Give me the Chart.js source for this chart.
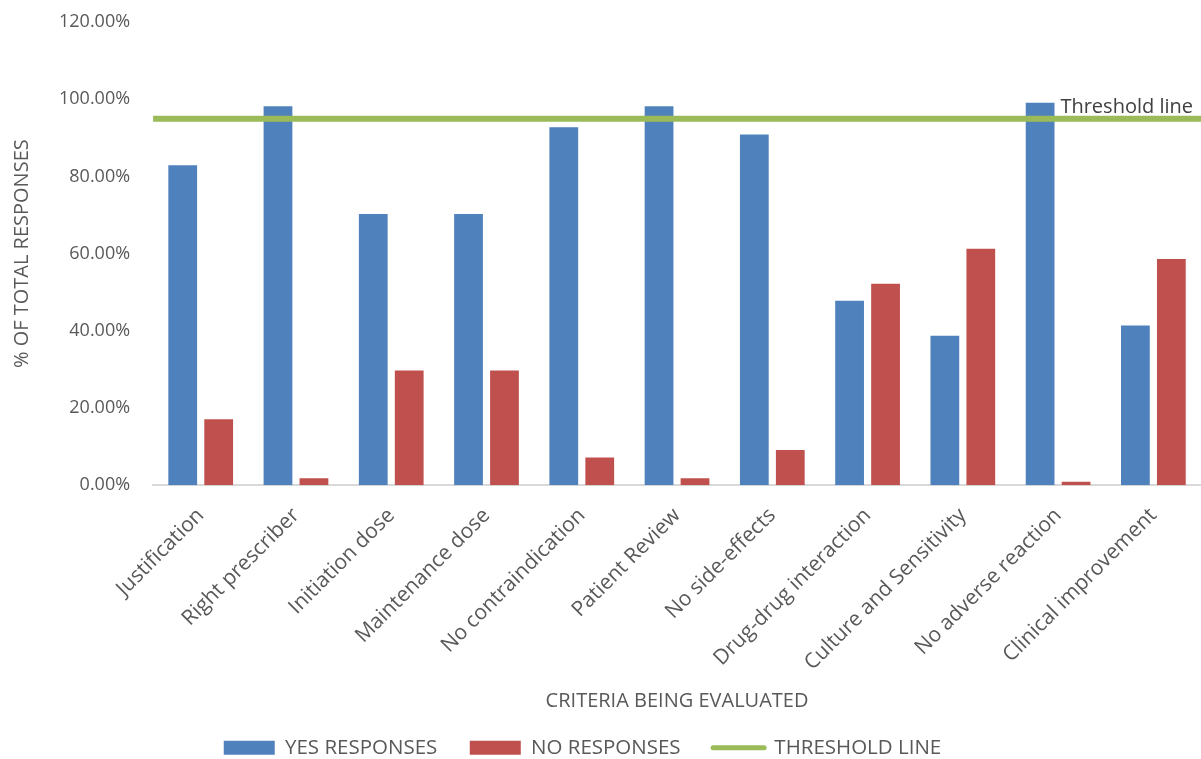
<!DOCTYPE html>
<html>
<head>
<meta charset="utf-8">
<script src="https://cdn.jsdelivr.net/npm/chart.js@4"></script>
<style>
  html, body { margin: 0; padding: 0; background: #ffffff; }
  #wrap { width: 1201px; height: 759px; position: relative; }
</style>
</head>
<body>
<div id="wrap"><canvas id="chart"></canvas></div>
<script>
// Evaluation criteria (x axis)
const categories = [
  'Justification', 'Right prescriber', 'Initiation dose', 'Maintenance dose',
  'No contraindication', 'Patient Review', 'No side-effects',
  'Drug-drug interaction', 'Culture and Sensitivity', 'No adverse reaction',
  'Clinical improvement'
];
// Share of responses, in percent
const yesResponses = [82.9, 98.2, 70.3, 70.3, 92.8, 98.2, 90.9, 47.8, 38.7, 99.1, 41.4];
const noResponses  = [17.1, 1.8, 29.7, 29.7, 7.2, 1.8, 9.1, 52.2, 61.3, 0.9, 58.6];
// Threshold runs across the full plot width: from the left edge to the right edge
const thresholdSpan = [-0.5, 10.5];
const thresholdLine = [95, 95];
const yTicks = [0, 20, 40, 60, 80, 100, 120];

const FONT = 'Open Sans';
const TEXT = '#595959';
const GREEN = '#9bbb59';

// Category i sits at x = i on a linear axis
const toPoints = vals => vals.map((v, i) => ({ x: i, y: v }));

// Writes the threshold caption just above the right end of the line
const thresholdLabel = {
  id: 'thresholdLabel',
  afterDatasetsDraw(chart) {
    const meta = chart.getDatasetMeta(2);
    const last = meta.data[meta.data.length - 1];
    if (!last) return;
    const ctx = chart.ctx;
    ctx.save();
    ctx.font = '20px "' + FONT + '"';
    ctx.fillStyle = '#404040';
    ctx.textAlign = 'right';
    ctx.textBaseline = 'bottom';
    ctx.fillText('Threshold line', last.x - 8, last.y - 1);
    ctx.restore();
  }
};

new Chart(document.getElementById('chart'), {
  type: 'bar',
  data: {
    datasets: [
      {
        type: 'bar', label: 'YES RESPONSES', data: toPoints(yesResponses),
        backgroundColor: '#4f81bd', borderWidth: 0, order: 2
      },
      {
        type: 'bar', label: 'NO RESPONSES', data: toPoints(noResponses),
        backgroundColor: '#c0504d', borderWidth: 0, order: 2
      },
      {
        type: 'line', label: 'THRESHOLD LINE',
        data: thresholdSpan.map((x, i) => ({ x: x, y: thresholdLine[i] })),
        borderColor: GREEN, backgroundColor: GREEN,
        borderWidth: 6, pointRadius: 0, fill: false, order: 1
      }
    ]
  },
  options: {
    responsive: true,
    maintainAspectRatio: false,
    animation: false,
    datasets: {
      bar: { categoryPercentage: 0.755, barPercentage: 0.8 }
    },
    layout: { padding: { top: -12, right: 0, left: 5, bottom: -9 } },
    scales: {
      x: {
        type: 'linear',
        min: -0.5, max: 10.5,
        offset: false,
        grid: { display: false },
        border: { display: true, color: '#d9d9d9', width: 2 },
        afterBuildTicks(scale) { scale.ticks = categories.map((c, i) => ({ value: i })); },
        ticks: {
          color: TEXT, font: { family: FONT, size: 21 },
          maxRotation: 45, minRotation: 45, padding: 10, autoSkip: false,
          callback: v => categories[v]
        },
        title: {
          display: true, text: 'CRITERIA BEING EVALUATED',
          color: TEXT, font: { family: FONT, size: 20 }, padding: { top: 4, bottom: 12 }
        }
      },
      y: {
        min: 0, max: 120,
        afterBuildTicks(scale) { scale.ticks = yTicks.map(v => ({ value: v })); },
        grid: { display: false },
        border: { display: false },
        ticks: {
          color: TEXT, font: { family: FONT, size: 18, lineHeight: 0.8 }, padding: 15,
          callback: v => v.toFixed(2) + '%'
        },
        title: {
          display: true, text: '% OF TOTAL RESPONSES',
          color: TEXT, font: { family: FONT, size: 20 }, padding: { top: 5, bottom: 10 }
        }
      }
    },
    plugins: {
      tooltip: { enabled: false },
      legend: {
        position: 'bottom',
        labels: {
          color: TEXT, font: { family: FONT, size: 20.5 },
          usePointStyle: true, pointStyleWidth: 51, boxHeight: 14, padding: 12,
          sort: (a, b) => a.datasetIndex - b.datasetIndex,
          generateLabels(chart) {
            const items = Chart.defaults.plugins.legend.labels.generateLabels(chart);
            items.forEach(it => {
              // trailing em spaces set the gap after each entry
              it.text = it.text + (it.datasetIndex === 2 ? '\u2003\u2003' : '\u2003');
              if (it.datasetIndex === 2) {
                it.pointStyle = 'line';
                it.lineWidth = 5;
                it.lineCap = 'round';
                it.strokeStyle = GREEN;
              } else {
                it.pointStyle = 'rect';
                it.lineWidth = 0;
              }
            });
            return items;
          }
        }
      }
    }
  },
  plugins: [thresholdLabel]
});
</script>
</body>
</html>
